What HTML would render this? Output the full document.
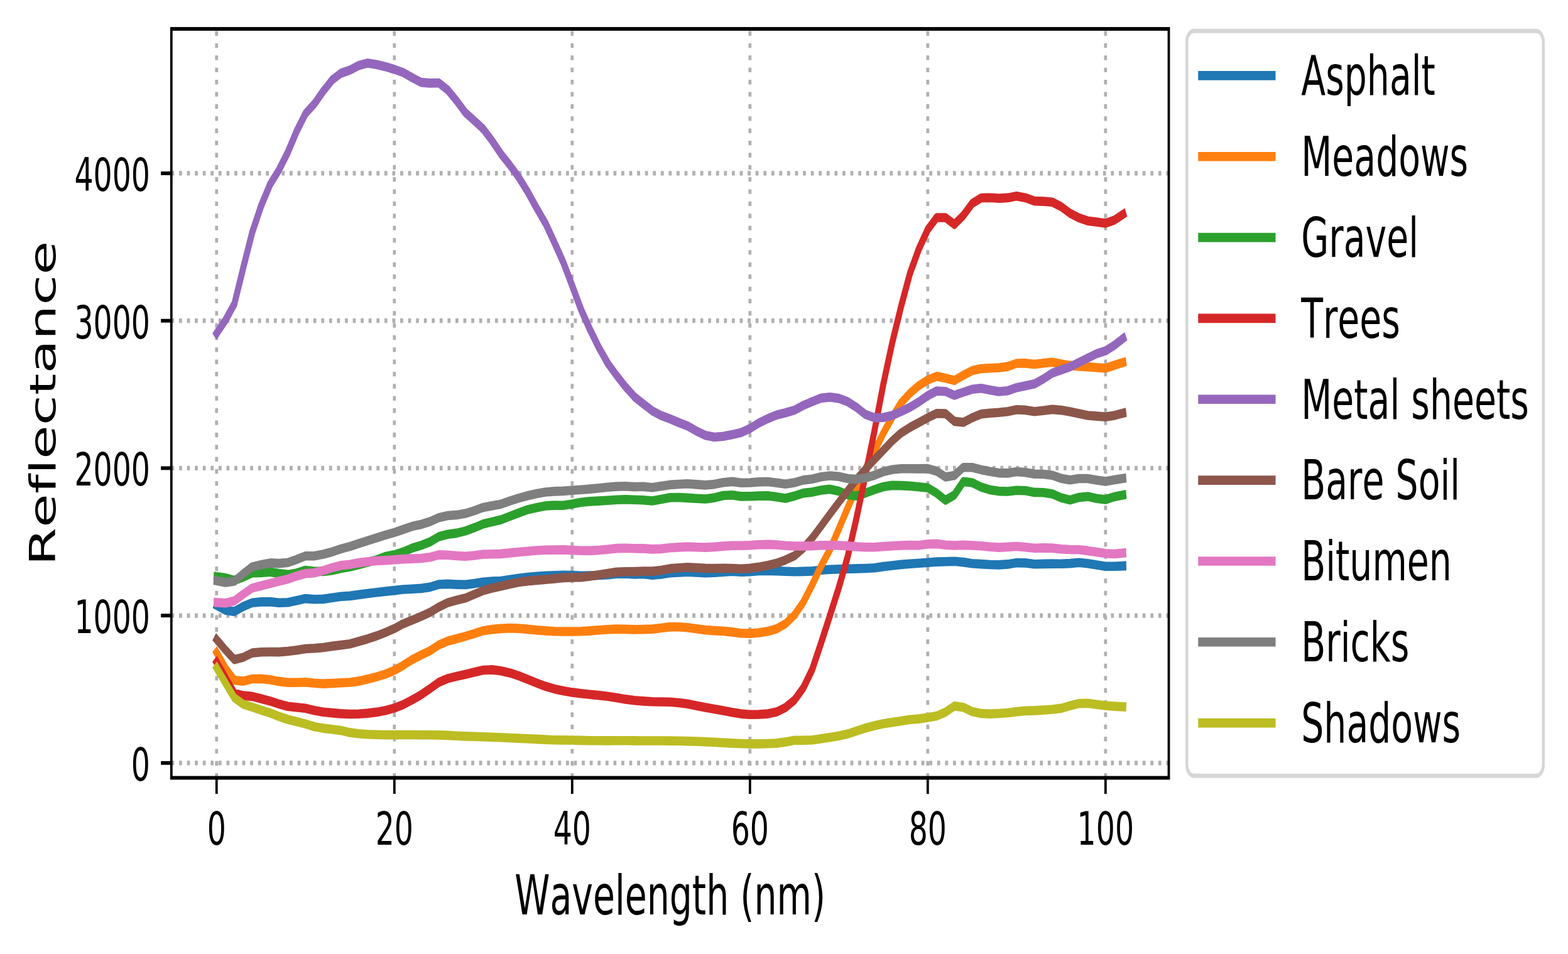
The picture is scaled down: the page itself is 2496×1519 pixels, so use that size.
<!DOCTYPE html>
<html lang="en"><head><meta charset="utf-8"><title>Reflectance spectra</title>
<style>html,body{margin:0;padding:0;background:#fff}svg{display:block}text{font-family:"DejaVu Sans","Liberation Sans",sans-serif;fill:#000;font-kerning:none;font-variant-ligatures:none;font-feature-settings:"kern" 0,"liga" 0,"clig" 0}</style></head><body>
<svg width="2496" height="1519" viewBox="0 0 2496 1519">
<rect width="2496" height="1519" fill="#fff"/>
<g transform="scale(0.65,1)">
<g stroke="#b0b0b0" stroke-width="7.31" stroke-dasharray="7.31 12.06" fill="none">
<path d="M530.42 1238.5V46"/>
<path d="M965.82 1238.5V46"/>
<path d="M1401.23 1238.5V46"/>
<path d="M1836.63 1238.5V46"/>
<path d="M2272.04 1238.5V46"/>
<path d="M2707.45 1238.5V46"/>
<path d="M419.19 1214.84H2862.31" stroke-dasharray="7.3 12.04"/>
<path d="M419.19 980.12H2862.31" stroke-dasharray="7.3 12.04"/>
<path d="M419.19 745.4H2862.31" stroke-dasharray="7.3 12.04"/>
<path d="M419.19 510.68H2862.31" stroke-dasharray="7.3 12.04"/>
<path d="M419.19 275.96H2862.31" stroke-dasharray="7.3 12.04"/>
</g>
<g stroke="#000" stroke-width="5.85" fill="none">
<path d="M530.42 1238.5v25.58"/>
<path d="M965.82 1238.5v25.58"/>
<path d="M1401.23 1238.5v25.58"/>
<path d="M1836.63 1238.5v25.58"/>
<path d="M2272.04 1238.5v25.58"/>
<path d="M2707.45 1238.5v25.58"/>
<path d="M419.69 1214.84h-25.58"/>
<path d="M419.69 980.12h-25.58"/>
<path d="M419.69 745.4h-25.58"/>
<path d="M419.69 510.68h-25.58"/>
<path d="M419.69 275.96h-25.58"/>
</g>
<g fill="none" stroke-width="14.62" stroke-linejoin="round" stroke-linecap="square">
<polyline stroke="#1f77b4" points="530.42,963.8 552.19,971.6 573.96,973.7 595.73,965.6 617.5,959.7 639.27,958.4 661.04,958.1 682.81,959.7 704.58,959.3 726.35,956.3 748.12,953.1 769.89,954.2 791.66,953.9 813.43,951.8 835.2,949.7 856.97,948.9 878.74,946.9 900.51,945 922.28,943.2 944.05,941.6 965.82,940.1 987.59,938.5 1009.36,937.7 1031.13,936.9 1052.9,934.9 1074.67,930.5 1096.44,929.9 1118.21,930.6 1139.98,930.9 1161.75,929.1 1183.52,926.7 1205.29,925.6 1227.07,925.1 1248.84,922.8 1270.61,920.7 1292.38,919.1 1314.15,917.8 1335.92,916.9 1357.69,916.3 1379.46,915.8 1401.23,916.1 1423,916.8 1444.77,916.6 1466.54,916 1488.31,915.2 1510.08,913.7 1531.85,913.5 1553.62,914.5 1575.39,914 1597.16,915.6 1618.93,914.5 1640.7,912.3 1662.47,911.5 1684.24,910.6 1706.01,911.4 1727.78,912.2 1749.55,911.7 1771.32,910.6 1793.09,909.7 1814.86,910.6 1836.63,910.1 1858.4,908.9 1880.17,908.6 1901.94,909.1 1923.72,909.7 1945.49,910.2 1967.26,909.9 1989.03,909.4 2010.8,907.8 2032.57,906.7 2054.34,906.2 2076.11,905.8 2097.88,905.4 2119.65,905 2141.42,904.2 2163.19,902.1 2184.96,900.5 2206.73,898.9 2228.5,897.7 2250.27,896.8 2272.04,895.8 2293.81,894.6 2315.58,894.3 2337.35,893.8 2359.12,895.1 2380.89,897.2 2402.66,898.1 2424.43,899 2446.2,899.4 2467.97,898.4 2489.74,896.1 2511.51,896.4 2533.28,898.2 2555.05,897.9 2576.82,897.6 2598.59,897.7 2620.36,897.1 2642.14,895.8 2663.91,897.2 2685.68,899.4 2707.45,901.8 2729.22,901.8 2750.99,901.1"/>
<polyline stroke="#ff7f0e" points="530.42,1039 552.19,1064.1 573.96,1083.1 595.73,1084.6 617.5,1081 639.27,1080.7 661.04,1082.3 682.81,1084.9 704.58,1086.7 726.35,1086.7 748.12,1086.2 769.89,1087.8 791.66,1088.6 813.43,1088 835.2,1087.2 856.97,1086.5 878.74,1084.6 900.51,1081.2 922.28,1077.6 944.05,1073.4 965.82,1067.4 987.59,1059.3 1009.36,1050.3 1031.13,1043 1052.9,1036.3 1074.67,1026.9 1096.44,1020.7 1118.21,1017 1139.98,1013.1 1161.75,1008.9 1183.52,1004.2 1205.29,1002.1 1227.07,1000.9 1248.84,1000.1 1270.61,1000.6 1292.38,1001.9 1314.15,1003.2 1335.92,1004.4 1357.69,1005.2 1379.46,1005.5 1401.23,1005.5 1423,1005.2 1444.77,1004.4 1466.54,1003.2 1488.31,1002.2 1510.08,1001.6 1531.85,1001.9 1553.62,1002.4 1575.39,1002.1 1597.16,1001.6 1618.93,1000 1640.7,998.1 1662.47,998.2 1684.24,999.2 1706.01,1001.2 1727.78,1003.1 1749.55,1004.1 1771.32,1004.9 1793.09,1006.4 1814.86,1008.3 1836.63,1008.6 1858.4,1007.5 1880.17,1005.2 1901.94,1001.2 1923.72,993.1 1945.49,979.3 1967.26,959 1989.03,931.3 2010.8,901.3 2032.57,875 2054.34,842 2076.11,808.5 2097.88,776 2119.65,746.2 2141.42,718.5 2163.19,689.8 2184.96,664.5 2206.73,641.5 2228.5,626.1 2250.27,613.9 2272.04,605 2293.81,599.2 2315.58,602.1 2337.35,605.8 2359.12,597.5 2380.89,590.1 2402.66,587 2424.43,586.2 2446.2,585.5 2467.97,583.6 2489.74,578.5 2511.51,578.4 2533.28,580 2555.05,578.2 2576.82,576.8 2598.59,579.4 2620.36,581.9 2642.14,583.1 2663.91,584.1 2685.68,585.2 2707.45,586.3 2729.22,581.5 2750.99,577.1"/>
<polyline stroke="#2ca02c" points="530.42,918.2 552.19,920.1 573.96,924.2 595.73,918.8 617.5,912.3 639.27,912 661.04,910.7 682.81,913.1 704.58,914.9 726.35,912.5 748.12,908 769.89,909.7 791.66,909.9 813.43,908.3 835.2,905 856.97,902.6 878.74,899 900.51,895.3 922.28,891.4 944.05,886 965.82,883.3 987.59,878.7 1009.36,872.7 1031.13,868.3 1052.9,862.9 1074.67,854.5 1096.44,850.7 1118.21,848.9 1139.98,845.4 1161.75,840.2 1183.52,834.3 1205.29,830.9 1227.07,827.5 1248.84,822 1270.61,816.6 1292.38,811.4 1314.15,808.2 1335.92,805.4 1357.69,804.6 1379.46,804.8 1401.23,802.5 1423,799.7 1444.77,798.4 1466.54,797.6 1488.31,796.8 1510.08,795.7 1531.85,795.2 1553.62,795.8 1575.39,796.2 1597.16,797.5 1618.93,794.9 1640.7,792.3 1662.47,792 1684.24,792.9 1706.01,793.8 1727.78,794.5 1749.55,792.5 1771.32,789 1793.09,788.3 1814.86,790.4 1836.63,790.3 1858.4,789.6 1880.17,789.4 1901.94,791.2 1923.72,793.5 1945.49,789.8 1967.26,785.1 1989.03,783.6 2010.8,780.5 2032.57,778.9 2054.34,782 2076.11,787.7 2097.88,789.6 2119.65,785 2141.42,779.6 2163.19,775 2184.96,772.9 2206.73,773.1 2228.5,773.9 2250.27,775.3 2272.04,776.8 2293.81,785.2 2315.58,796.4 2337.35,788.1 2359.12,766.9 2380.89,768.5 2402.66,775.5 2424.43,779.9 2446.2,782.1 2467.97,782.5 2489.74,780.7 2511.51,781.3 2533.28,783.9 2555.05,784.3 2576.82,786.4 2598.59,792.5 2620.36,796.1 2642.14,792 2663.91,790.6 2685.68,793.7 2707.45,795.5 2729.22,790.9 2750.99,788.1"/>
<polyline stroke="#d62728" points="530.42,1054.4 552.19,1079.5 573.96,1103.9 595.73,1107.6 617.5,1108.9 639.27,1112.5 661.04,1116.2 682.81,1120.9 704.58,1124.7 726.35,1126.3 748.12,1127.8 769.89,1131.2 791.66,1133.8 813.43,1135.1 835.2,1136.4 856.97,1137 878.74,1136.7 900.51,1135.6 922.28,1133.9 944.05,1131.2 965.82,1127.4 987.59,1121.8 1009.36,1114.4 1031.13,1106.3 1052.9,1096.6 1074.67,1086.4 1096.44,1080.4 1118.21,1076.9 1139.98,1073.8 1161.75,1070.3 1183.52,1067 1205.29,1066.4 1227.07,1068.3 1248.84,1071.4 1270.61,1076.1 1292.38,1081.8 1314.15,1087.5 1335.92,1092.8 1357.69,1096.9 1379.46,1100.1 1401.23,1102.4 1423,1104.2 1444.77,1105.8 1466.54,1107.1 1488.31,1108.7 1510.08,1111 1531.85,1113.4 1553.62,1115.2 1575.39,1116.4 1597.16,1117.2 1618.93,1117.5 1640.7,1117.7 1662.47,1119 1684.24,1120.8 1706.01,1123.7 1727.78,1126.5 1749.55,1128.9 1771.32,1131.5 1793.09,1134.3 1814.86,1136.6 1836.63,1137.7 1858.4,1137.5 1880.17,1136.6 1901.94,1133.6 1923.72,1126.5 1945.49,1114.8 1967.26,1095.3 1989.03,1066.1 2010.8,1023.9 2032.57,980.1 2054.34,935.5 2076.11,886 2097.88,824 2119.65,756 2141.42,686.5 2163.19,612 2184.96,546 2206.73,488 2228.5,435.3 2250.27,396.4 2272.04,365.5 2293.81,346.5 2315.58,346.5 2337.35,357.4 2359.12,343.1 2380.89,324.1 2402.66,315.2 2424.43,314.7 2446.2,315.7 2467.97,314.9 2489.74,312.3 2511.51,314.9 2533.28,320.1 2555.05,320.6 2576.82,321.7 2598.59,329 2620.36,339.5 2642.14,346.9 2663.91,351.7 2685.68,353.5 2707.45,355.5 2729.22,350.4 2750.99,341"/>
<polyline stroke="#9467bd" points="530.42,531 552.19,509.8 573.96,484 595.73,426.4 617.5,370.4 639.27,328.2 661.04,294.1 682.81,271 704.58,242.9 726.35,209.2 748.12,180.9 769.89,165.3 791.66,145.2 813.43,127.3 835.2,116.5 856.97,111.6 878.74,104.3 900.51,100.4 922.28,102.7 944.05,106.2 965.82,110.5 987.59,115.5 1009.36,123.6 1031.13,131.1 1052.9,132.4 1074.67,132 1096.44,143.3 1118.21,160.4 1139.98,179.5 1161.75,192.2 1183.52,205.5 1205.29,224.2 1227.07,245.3 1248.84,263.1 1270.61,282.6 1292.38,305.5 1314.15,331.2 1335.92,355.6 1357.69,386.1 1379.46,417.6 1401.23,454.7 1423,492.9 1444.77,524.5 1466.54,553.3 1488.31,578.4 1510.08,597.9 1531.85,615.8 1553.62,631.7 1575.39,643.1 1597.16,654.1 1618.93,661.6 1640.7,666.9 1662.47,672.9 1684.24,678.3 1706.01,686.4 1727.78,693.2 1749.55,696 1771.32,694.8 1793.09,692.1 1814.86,688.7 1836.63,682.3 1858.4,673.5 1880.17,666.6 1901.94,660.7 1923.72,657.2 1945.49,653.1 1967.26,645.5 1989.03,639.5 2010.8,633.9 2032.57,632.4 2054.34,634.4 2076.11,639.7 2097.88,648.8 2119.65,659.9 2141.42,665.1 2163.19,664.7 2184.96,661.5 2206.73,655.3 2228.5,648.5 2250.27,639.9 2272.04,630 2293.81,622.5 2315.58,623.2 2337.35,629.5 2359.12,624.5 2380.89,619.8 2402.66,618.2 2424.43,621 2446.2,623.5 2467.97,622.2 2489.74,617.2 2511.51,614.3 2533.28,611.3 2555.05,603.4 2576.82,594.1 2598.59,589.1 2620.36,584.1 2642.14,577.1 2663.91,570.1 2685.68,563.1 2707.45,558.6 2729.22,549.8 2750.99,538.6"/>
<polyline stroke="#8c564b" points="530.42,1018.2 552.19,1035 573.96,1050.3 595.73,1046.6 617.5,1039.6 639.27,1038.3 661.04,1038 682.81,1038.1 704.58,1037 726.35,1035.2 748.12,1033 769.89,1032.3 791.66,1031 813.43,1028.9 835.2,1027.1 856.97,1025.3 878.74,1021.3 900.51,1017.2 922.28,1012.5 944.05,1007 965.82,1000.8 987.59,993.2 1009.36,987.5 1031.13,981.5 1052.9,975 1074.67,966.5 1096.44,959.6 1118.21,955.6 1139.98,952.2 1161.75,946.2 1183.52,940.3 1205.29,936.4 1227.07,933.2 1248.84,929.9 1270.61,927 1292.38,925.1 1314.15,923.9 1335.92,922.8 1357.69,921.5 1379.46,919.9 1401.23,919.4 1423,919.1 1444.77,917.4 1466.54,915.3 1488.31,912.9 1510.08,910.9 1531.85,910.3 1553.62,910.1 1575.39,909.6 1597.16,909.6 1618.93,908 1640.7,905.4 1662.47,904.2 1684.24,903.4 1706.01,904.1 1727.78,904.9 1749.55,905 1771.32,904.9 1793.09,905 1814.86,905.7 1836.63,904.9 1858.4,902.9 1880.17,900.2 1901.94,896.8 1923.72,891.6 1945.49,885.1 1967.26,872.9 1989.03,856.7 2010.8,837.7 2032.57,818.5 2054.34,799.8 2076.11,781.2 2097.88,763.3 2119.65,747.1 2141.42,731.7 2163.19,717 2184.96,702 2206.73,689.4 2228.5,680.5 2250.27,672.9 2272.04,665.1 2293.81,658.2 2315.58,658.6 2337.35,670.9 2359.12,672.5 2380.89,665.1 2402.66,659.3 2424.43,657.8 2446.2,656.8 2467.97,655.3 2489.74,652.2 2511.51,652.9 2533.28,655.3 2555.05,653.7 2576.82,651.9 2598.59,653.1 2620.36,655.6 2642.14,658.6 2663.91,661.5 2685.68,662.6 2707.45,663.8 2729.22,661.5 2750.99,657.8"/>
<polyline stroke="#e377c2" points="530.42,959.3 552.19,960.2 573.96,956.8 595.73,946.1 617.5,936.4 639.27,932.8 661.04,929.1 682.81,925.5 704.58,922.1 726.35,917.2 748.12,913.3 769.89,912.2 791.66,908.4 813.43,903.9 835.2,900.3 856.97,898.7 878.74,896.1 900.51,894.2 922.28,893 944.05,892.2 965.82,891.2 987.59,890.1 1009.36,889.6 1031.13,889 1052.9,887.2 1074.67,883.4 1096.44,883.8 1118.21,885 1139.98,885.8 1161.75,884.5 1183.52,882.5 1205.29,882.2 1227.07,881.9 1248.84,880.4 1270.61,879 1292.38,877.7 1314.15,876.5 1335.92,875.7 1357.69,875.6 1379.46,875.4 1401.23,876 1423,876.7 1444.77,876.9 1466.54,876 1488.31,874.7 1510.08,873.1 1531.85,872.8 1553.62,873.3 1575.39,873.4 1597.16,874.4 1618.93,873.9 1640.7,872.2 1662.47,871.4 1684.24,870.6 1706.01,871.3 1727.78,871.6 1749.55,870.9 1771.32,869.6 1793.09,868.8 1814.86,868.8 1836.63,868.3 1858.4,867.2 1880.17,866.9 1901.94,867.5 1923.72,868.8 1945.49,869.5 1967.26,869.5 1989.03,869.2 2010.8,868.3 2032.57,868.2 2054.34,868.5 2076.11,869.3 2097.88,870.5 2119.65,871.3 2141.42,871.3 2163.19,870.1 2184.96,869.3 2206.73,868.5 2228.5,868 2250.27,868.2 2272.04,866.2 2293.81,865.9 2315.58,867.7 2337.35,868.5 2359.12,867.9 2380.89,868.5 2402.66,869.3 2424.43,870.8 2446.2,871.6 2467.97,870.9 2489.74,870 2511.51,871.3 2533.28,872.7 2555.05,872.4 2576.82,872.6 2598.59,874.2 2620.36,875 2642.14,875.3 2663.91,876.9 2685.68,879.1 2707.45,881.3 2729.22,882 2750.99,880.5"/>
<polyline stroke="#7f7f7f" points="530.42,924.7 552.19,927.4 573.96,925.5 595.73,913.6 617.5,902.6 639.27,899.2 661.04,896.4 682.81,897.1 704.58,895.8 726.35,890.9 748.12,885.2 769.89,885.2 791.66,882.5 813.43,878.7 835.2,873.9 856.97,870.1 878.74,865.4 900.51,860.9 922.28,856.3 944.05,851.9 965.82,847.9 987.59,843 1009.36,838.1 1031.13,835 1052.9,830.5 1074.67,824.2 1096.44,821 1118.21,819.9 1139.98,817.6 1161.75,813.1 1183.52,807.9 1205.29,805.3 1227.07,802.7 1248.84,797.6 1270.61,793.2 1292.38,789.2 1314.15,785.9 1335.92,783.5 1357.69,782.4 1379.46,781.9 1401.23,780.7 1423,779.8 1444.77,778.6 1466.54,777.3 1488.31,775.7 1510.08,774.6 1531.85,774.3 1553.62,775.1 1575.39,774.9 1597.16,776.2 1618.93,774.1 1640.7,771.9 1662.47,771 1684.24,770.3 1706.01,771.4 1727.78,772.4 1749.55,771.1 1771.32,768.2 1793.09,766.9 1814.86,768.7 1836.63,768.5 1858.4,767.4 1880.17,767 1901.94,768.7 1923.72,770.8 1945.49,768.5 1967.26,764.4 1989.03,762.8 2010.8,759.3 2032.57,757.5 2054.34,758.8 2076.11,762 2097.88,763.1 2119.65,760.9 2141.42,756.8 2163.19,751.1 2184.96,747.7 2206.73,746.3 2228.5,746.3 2250.27,746.4 2272.04,746.1 2293.81,750.3 2315.58,759.4 2337.35,757.1 2359.12,744.2 2380.89,744.2 2402.66,747.9 2424.43,750.8 2446.2,753.1 2467.97,753.4 2489.74,751 2511.51,752.3 2533.28,754.7 2555.05,755 2576.82,756.7 2598.59,761.7 2620.36,764.3 2642.14,762 2663.91,762 2685.68,764.4 2707.45,766.6 2729.22,764.1 2750.99,761.7"/>
<polyline stroke="#bcbd22" points="530.42,1063.5 552.19,1087.7 573.96,1111.2 595.73,1121.4 617.5,1125.8 639.27,1130.7 661.04,1135.2 682.81,1140.6 704.58,1145.5 726.35,1149 748.12,1152.6 769.89,1157 791.66,1159.6 813.43,1161.2 835.2,1163.1 856.97,1166.4 878.74,1168.3 900.51,1169.3 922.28,1169.8 944.05,1170.1 965.82,1170.1 987.59,1170 1009.36,1170 1031.13,1170.1 1052.9,1170.3 1074.67,1170.4 1096.44,1170.9 1118.21,1171.7 1139.98,1172.4 1161.75,1172.8 1183.52,1173.2 1205.29,1173.8 1227.07,1174.3 1248.84,1175 1270.61,1175.6 1292.38,1176.3 1314.15,1176.9 1335.92,1177.6 1357.69,1178.2 1379.46,1178.4 1401.23,1178.5 1423,1178.9 1444.77,1179.2 1466.54,1179.3 1488.31,1179.4 1510.08,1179.3 1531.85,1179.2 1553.62,1179.4 1575.39,1179.5 1597.16,1179.5 1618.93,1179.5 1640.7,1179.6 1662.47,1179.8 1684.24,1180.1 1706.01,1180.5 1727.78,1181.1 1749.55,1181.8 1771.32,1182.6 1793.09,1183.4 1814.86,1184 1836.63,1184.4 1858.4,1184.4 1880.17,1184 1901.94,1183.4 1923.72,1181.4 1945.49,1178.8 1967.26,1178.8 1989.03,1178.3 2010.8,1176.2 2032.57,1174 2054.34,1171.7 2076.11,1168.6 2097.88,1163.9 2119.65,1159.2 2141.42,1155.5 2163.19,1152.2 2184.96,1150.1 2206.73,1148 2228.5,1145.7 2250.27,1144.6 2272.04,1142.5 2293.81,1140 2315.58,1133.9 2337.35,1124.1 2359.12,1126.2 2380.89,1132.9 2402.66,1136 2424.43,1136.6 2446.2,1136 2467.97,1135 2489.74,1133.1 2511.51,1131.9 2533.28,1131.4 2555.05,1130.6 2576.82,1129.5 2598.59,1127.9 2620.36,1123.8 2642.14,1120.1 2663.91,1119.7 2685.68,1121.7 2707.45,1123.5 2729.22,1124.6 2750.99,1125.4"/>
</g>
<rect x="419.69" y="46" width="2442.62" height="1192.5" fill="none" stroke="#000" stroke-width="5.85" stroke-linejoin="miter"/>
<g font-size="72.9">
<text x="530.42" y="1345.4" text-anchor="middle">0</text>
<text x="965.82" y="1345.4" text-anchor="middle">20</text>
<text x="1401.23" y="1345.4" text-anchor="middle">40</text>
<text x="1836.63" y="1345.4" text-anchor="middle">60</text>
<text x="2272.04" y="1345.4" text-anchor="middle">80</text>
<text x="2707.45" y="1345.4" text-anchor="middle">100</text>
<text x="367.62" y="1242.74" text-anchor="end">0</text>
<text x="367.62" y="1008.02" text-anchor="end">1000</text>
<text x="367.62" y="773.3" text-anchor="end">2000</text>
<text x="367.62" y="538.58" text-anchor="end">3000</text>
<text x="367.62" y="303.86" text-anchor="end">4000</text>
</g>
<text x="1641" y="1456.4" font-size="87.5" text-anchor="middle">Wavelength (nm)</text>
<text transform="translate(135.23,642.25) rotate(-90)" font-size="87.5" text-anchor="middle">Reflectance</text>
<rect x="2906.54" y="49.25" width="873.08" height="1186" rx="17.5" ry="17.5" fill="#fff" stroke="#d6d6d6" stroke-width="6.9"/>
<g font-size="87.5" stroke-width="14.62" stroke-linecap="square">
<path d="M2941.54 120.4H3116.54" stroke="#1f77b4"/>
<text x="3186.54" y="151.25">Asphalt</text>
<path d="M2941.54 249.24H3116.54" stroke="#ff7f0e"/>
<text x="3186.54" y="280.09">Meadows</text>
<path d="M2941.54 378.08H3116.54" stroke="#2ca02c"/>
<text x="3186.54" y="408.93">Gravel</text>
<path d="M2941.54 506.92H3116.54" stroke="#d62728"/>
<text x="3186.54" y="537.77">Trees</text>
<path d="M2941.54 635.76H3116.54" stroke="#9467bd"/>
<text x="3186.54" y="666.61">Metal sheets</text>
<path d="M2941.54 764.6H3116.54" stroke="#8c564b"/>
<text x="3186.54" y="795.45">Bare Soil</text>
<path d="M2941.54 893.44H3116.54" stroke="#e377c2"/>
<text x="3186.54" y="924.29">Bitumen</text>
<path d="M2941.54 1022.28H3116.54" stroke="#7f7f7f"/>
<text x="3186.54" y="1053.13">Bricks</text>
<path d="M2941.54 1151.12H3116.54" stroke="#bcbd22"/>
<text x="3186.54" y="1181.97">Shadows</text>
</g>
</g></svg></body></html>
